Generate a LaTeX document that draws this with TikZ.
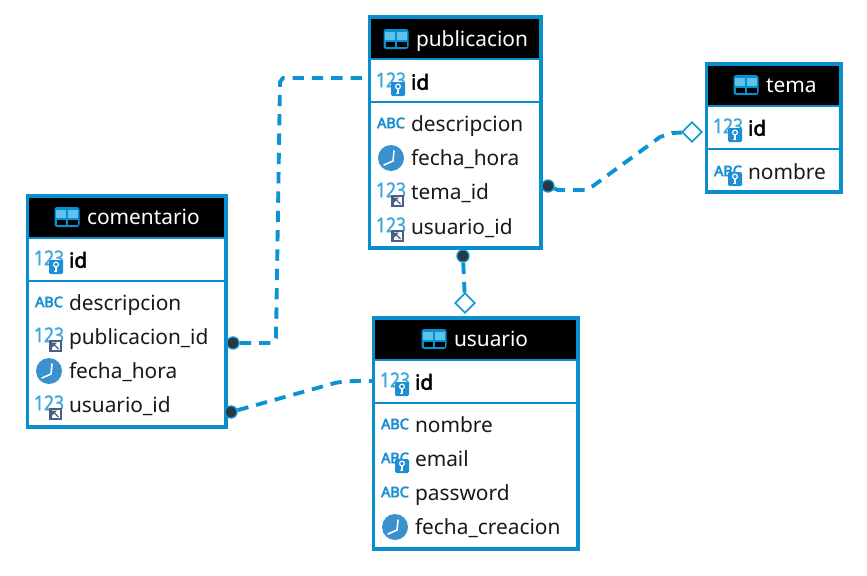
\documentclass[tikz,border=0pt]{standalone}
\usepackage{fontspec}
\setmainfont{Noto Sans}
\newfontface\heavyface{Noto Sans}[FakeBold=2.5]
\newfontface\abcface{Noto Sans}[FakeBold=4]
\newfontface\numface{Noto Sans}[FakeBold=1]
\usetikzlibrary{shapes.geometric}
\definecolor{erblue}{HTML}{0A8FCE}
\definecolor{linkblue}{HTML}{0B93D3}
\definecolor{numblue}{HTML}{3FA7DB}
\definecolor{abcblue}{HTML}{1E90D2}
\definecolor{badgeblue}{HTML}{1E8FD5}
\definecolor{refslate}{HTML}{4A5F82}
\definecolor{clockblue}{HTML}{3B90D0}
\definecolor{panellight}{HTML}{5CC3EC}
\definecolor{dotdark}{HTML}{2B3640}
\tikzset{
  x=0.75pt,y=-0.75pt,
  boxnode/.style={inner sep=0pt,outer sep=0pt,anchor=north west,draw=none},
  rowtext/.style={inner sep=0pt,outer sep=0pt,anchor=base west,font=\fontsize{15.65}{18}\selectfont,text=black!90},
  keytext/.style={rowtext,font=\heavyface\fontsize{15.65}{18}\selectfont,text=black},
  titletext/.style={rowtext,text=white},
  numtext/.style={inner sep=0pt,font=\numface\fontsize{15.5}{16}\selectfont,text=numblue,xscale=0.85},
  abctext/.style={inner sep=0pt,font=\abcface\fontsize{10.8}{11}\selectfont,text=abcblue},
  conn/.style={draw=linkblue,line width=2.9pt,dash pattern=on 8.5pt off 6pt},
  enddot/.style={circle,draw=linkblue,fill=dotdark,line width=1pt,inner sep=0pt,minimum size=9pt},
  enddiamond/.style={diamond,draw=linkblue,fill=white,line width=1.2pt,inner sep=0pt,minimum width=15pt,minimum height=15pt,aspect=1},
  tableicon/.pic={
    \fill[erblue,rounded corners=2pt] (-12.5,-10) rectangle (12.5,10);
    \fill[panellight] (-11,-7) rectangle (-0.8,0.5);
    \fill[panellight] (0.8,-7) rectangle (11,0.5);
    \fill[black] (-10.5,2.5) rectangle (-1,8);
    \fill[black] (1,2.5) rectangle (10.5,8);
  },
  clockicon/.pic={
    \fill[clockblue] (0,0) circle[radius=13];
    \draw[white,line width=1.2pt,line cap=round,line join=round] (3,-7) -- (2,3) -- (-7,7);
  },
  keybadge/.pic={
    \fill[badgeblue,rounded corners=1pt] (0,0) rectangle (14,14);
    \draw[white,line width=0.9pt] (7,4.5) circle[radius=2.4];
    \draw[white,line width=0.9pt] (7,7) -- (7,11.5) -- (4.5,11.5);
  },
  refbadge/.pic={
    \fill[refslate] (0,3) rectangle (13,15);
    \fill[white] (2.5,5) rectangle (10.5,13);
    \draw[refslate,line width=1pt] (3.8,6.3) -- (9.5,12);
    \fill[refslate] (3,5.5) -- (8,5.5) -- (3,10.5) -- cycle;
  },
  numicon/.pic={\node[numtext] at (0,-2) {123};},
  abcicon/.pic={\node[abctext] at (0,-1) {ABC};},
}
% name, x0, y0, x1, y1, y of second separator
\newcommand{\erbox}[6]{%
  \node[boxnode,fill=erblue,minimum width={(#4-#2)*0.75pt},minimum height={(#5-#3)*0.75pt}] (#1) at (#2,#3) {};
  \node[boxnode,fill=white,minimum width={(#4-#2-7)*0.75pt},minimum height={(#5-#3-8)*0.75pt}] (#1body) at (#2+3,#3+4) {};
  \node[boxnode,fill=black,minimum width={(#4-#2-7)*0.75pt},minimum height={39*0.75pt}] (#1head) at (#2+3,#3+4) {};
  \draw[erblue,line width=1.5pt] (#2+3,#3+44) -- (#4-4,#3+44);
  \draw[erblue,line width=1.5pt] (#2+3,#6) -- (#4-4,#6);
}
\newcommand{\ertitle}[4]{% name, icon x, y, text
  \pic at (#2,#3+5) {tableicon};
  \node[titletext] (#1title) at (#2+20,#3+12) {#4};
}
% name, x of table left, centre y, style, text, icon commands
\newcommand{\errow}[6]{%
  #6
  \node[#4] (#1) at (#2+43,#3+7.7) {#5};
}
\newcommand{\iconkey}[2]{\pic at (#1+23,#2) {numicon};\pic at (#1+23,#2) {keybadge};}
\newcommand{\iconref}[2]{\pic at (#1+23,#2) {numicon};\pic at (#1+23,#2) {refbadge};}
\newcommand{\iconabc}[2]{\pic at (#1+23,#2) {abcicon};}
\newcommand{\iconabk}[2]{\pic at (#1+23,#2) {abcicon};\pic at (#1+23,#2) {keybadge};}
\newcommand{\iconclk}[2]{\pic at (#1+23,#2) {clockicon};}
\begin{document}
\begin{tikzpicture}
\useasboundingbox[fill=white] (0,0) rectangle (867,575);
% tables
\erbox{publicacion}{368}{15}{543}{250}{102}
\ertitle{pub}{396}{34}{publicacion}
\errow{pubid}{368}{82}{keytext}{id}{\iconkey{368}{82}}
\errow{pubdesc}{368}{124}{rowtext}{descripcion}{\iconabc{368}{124}}
\errow{pubfecha}{368}{158}{rowtext}{fecha\_hora}{\iconclk{368}{158}}
\errow{pubtema}{368}{192}{rowtext}{tema\_id}{\iconref{368}{192}}
\errow{pubusu}{368}{227}{rowtext}{usuario\_id}{\iconref{368}{227}}

\erbox{tema}{705}{62}{843}{194}{149}
\ertitle{tem}{746}{80}{tema}
\errow{temid}{705}{128}{keytext}{id}{\iconkey{705}{128}}
\errow{temnom}{705}{172}{rowtext}{nombre}{\iconabk{705}{172}}

\erbox{comentario}{26}{194}{228}{429}{281}
\ertitle{com}{67}{212}{comentario}
\errow{comid}{26}{260}{keytext}{id}{\iconkey{26}{260}}
\errow{comdesc}{26}{303}{rowtext}{descripcion}{\iconabc{26}{303}}
\errow{compub}{26}{337}{rowtext}{publicacion\_id}{\iconref{26}{337}}
\errow{comfecha}{26}{371}{rowtext}{fecha\_hora}{\iconclk{26}{371}}
\errow{comusu}{26}{405}{rowtext}{usuario\_id}{\iconref{26}{405}}

\erbox{usuario}{372}{316}{580}{551}{403}
\ertitle{usu}{434}{334}{usuario}
\errow{usuid}{372}{382}{keytext}{id}{\iconkey{372}{382}}
\errow{usunom}{372}{425}{rowtext}{nombre}{\iconabc{372}{425}}
\errow{usumail}{372}{459}{rowtext}{email}{\iconabk{372}{459}}
\errow{usupass}{372}{493}{rowtext}{password}{\iconabc{372}{493}}
\errow{usufecha}{372}{527}{rowtext}{fecha\_creacion}{\iconclk{372}{527}}

% connector ends
\node[enddot] (dotcompub) at (233,343) {};
\node[enddot] (dotcomusu) at (231,412) {};
\node[enddot] (dotpubtema) at (548,186) {};
\node[enddot] (dotpubusu) at (463,256) {};
\node[enddiamond] (diatema) at (692,132) {};
\node[enddiamond] (diausu) at (465,303) {};
\coordinate (endpubid) at (368,78);
\coordinate (endusuid) at (372,381);
% connectors
\draw[conn] (dotcompub) -- (272,343) -- (276,338) -- (280,82) -- (283,78) -- (endpubid);
\draw[conn] (dotcomusu) -- (335,383) .. controls (345,381) and (350,381) .. (endusuid);
\draw[conn] (dotpubtema) -- (558,190) -- (585,190) -- (593,186) -- (660,137) -- (672,133) -- (diatema);
\draw[conn] (dotpubusu) -- (diausu);
\end{tikzpicture}
\end{document}
